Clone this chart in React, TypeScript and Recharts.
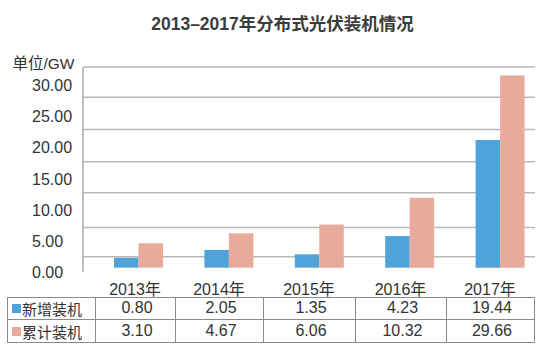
import React from 'react';
import { BarChart, Bar, XAxis, YAxis, CartesianGrid } from 'recharts';

// ---- data ----
const years = ['2013年', '2014年', '2015年', '2016年', '2017年'];
const newInstalled = [0.8, 2.05, 1.35, 4.23, 19.44];
const cumulative = [3.1, 4.67, 6.06, 10.32, 29.66];
const seriesNames = ['新增装机', '累计装机'];
const valueLabels = [
  ['0.80', '2.05', '1.35', '4.23', '19.44'],
  ['3.10', '4.67', '6.06', '10.32', '29.66'],
];
const yTickValues = [0, 5, 10, 15, 20, 25, 30];
const gridValues = [0.96, 5.6, 11.1, 16, 21.1, 26.2, 31];
const barFloor = -0.77;
const titleText = '2013–2017年分布式光伏装机情况';
const unitText = '单位/GW';

const BLUE = '#4fa3d8';
const PINK = '#e8ab9b';
const TEXT = '#333333';
const FONT = '"Liberation Sans", Arial, "Noto Sans CJK SC", sans-serif';

const data = years.map((y, i) => ({
  year: y,
  newInst: [barFloor, newInstalled[i]],
  cum: [barFloor, cumulative[i]],
}));

const LabelTick = (props: any) => {
  const { y, payload } = props;
  return (
    <text
      x={32}
      y={y}
      dy={6}
      textAnchor="start"
      fontSize={16}
      fill={TEXT}
      fontFamily={FONT}
    >
      {payload.value.toFixed(2)}
    </text>
  );
};

const EmptyTick = () => <g />;

// table layout
const colEdges = [7, 95, 175, 263, 355, 446, 534];
const rowEdges = [296.5, 319.3, 342];
const headerY = 287.7;

export default function App() {
  const swatches = [BLUE, PINK];
  return (
    <div
      style={{
        position: 'absolute',
        left: 0,
        top: 0,
        width: 548,
        height: 361,
        background: '#fff',
        fontFamily: FONT,
        color: TEXT,
      }}
    >
      <div style={{ position: 'absolute', left: 0, top: 0 }}>
        <BarChart
          width={548}
          height={361}
          data={data}
          margin={{ top: 67, right: 13, bottom: 89, left: 0 }}
          barGap={0}
        >
          <CartesianGrid
            vertical={false}
            horizontalValues={gridValues}
            stroke="#b8b8b8"
            strokeWidth={1.5}
          />
          <XAxis
            dataKey="year"
            tick={false}
            tickLine={false}
            height={0}
            padding={{ left: 10, right: -10 }}
            axisLine={{ stroke: '#a8a8a8', strokeWidth: 1.5 }}
          />
          <YAxis
            orientation="right"
            width={0}
            domain={[-1.45, 31]}
            allowDataOverflow
            ticks={gridValues}
            tick={<EmptyTick />}
            tickLine={false}
            axisLine={false}
          />
          <YAxis
            yAxisId="lab"
            orientation="left"
            width={83}
            domain={[0, 32.89]}
            allowDataOverflow
            ticks={yTickValues}
            tick={<LabelTick />}
            tickLine={false}
            axisLine={{ stroke: '#a8a8a8', strokeWidth: 1.5 }}
          />
          <Bar
            dataKey="newInst"
            fill={BLUE}
            barSize={24.5}
            isAnimationActive={false}
          />
          <Bar
            dataKey="cum"
            fill={PINK}
            barSize={24.5}
            isAnimationActive={false}
          />
        </BarChart>
      </div>

      {/* title */}
      <div
        style={{
          position: 'absolute',
          left: 282.5,
          top: 21.7,
          transform: 'translate(-50%, -50%)',
          whiteSpace: 'nowrap',
          fontSize: 17.5,
          fontWeight: 'bold',
          color: '#3c3c3c',
        }}
      >
        {titleText}
      </div>

      {/* unit */}
      <div
        style={{
          position: 'absolute',
          left: 12.5,
          top: 61.7,
          transform: 'translateY(-50%)',
          whiteSpace: 'nowrap',
          fontSize: 15.5,
        }}
      >
        {unitText}
      </div>

      {/* header years */}
      {years.map((y, i) => (
        <div
          key={y}
          style={{
            position: 'absolute',
            left: colEdges[i + 1],
            width: colEdges[i + 2] - colEdges[i + 1],
            top: headerY,
            transform: 'translateY(-50%)',
            textAlign: 'center',
            fontSize: 16,
            whiteSpace: 'nowrap',
          }}
        >
          {y}
        </div>
      ))}

      {/* table cells */}
      {seriesNames.map((name, r) =>
        colEdges.slice(0, -1).map((left, c) => {
          const top = rowEdges[r];
          const w = colEdges[c + 1] - left + 1;
          const h = rowEdges[r + 1] - top + 1;
          return (
            <div
              key={`${r}-${c}`}
              style={{
                position: 'absolute',
                left,
                top,
                width: w,
                height: h,
                boxSizing: 'border-box',
                border: '1px solid #8a8a8a',
                display: 'flex',
                alignItems: 'center',
                justifyContent: c === 0 ? 'flex-start' : 'center',
                fontSize: c === 0 ? 15 : 16,
                whiteSpace: 'nowrap',
                paddingLeft: c === 0 ? 4 : 3,
              }}
            >
              {c === 0 ? (
                <>
                  <span
                    style={{
                      display: 'inline-block',
                      width: 9,
                      height: 9,
                      background: swatches[r],
                      marginRight: 1,
                    }}
                  />
                  <span>{name}</span>
                </>
              ) : (
                valueLabels[r][c - 1]
              )}
            </div>
          );
        })
      )}
    </div>
  );
}
